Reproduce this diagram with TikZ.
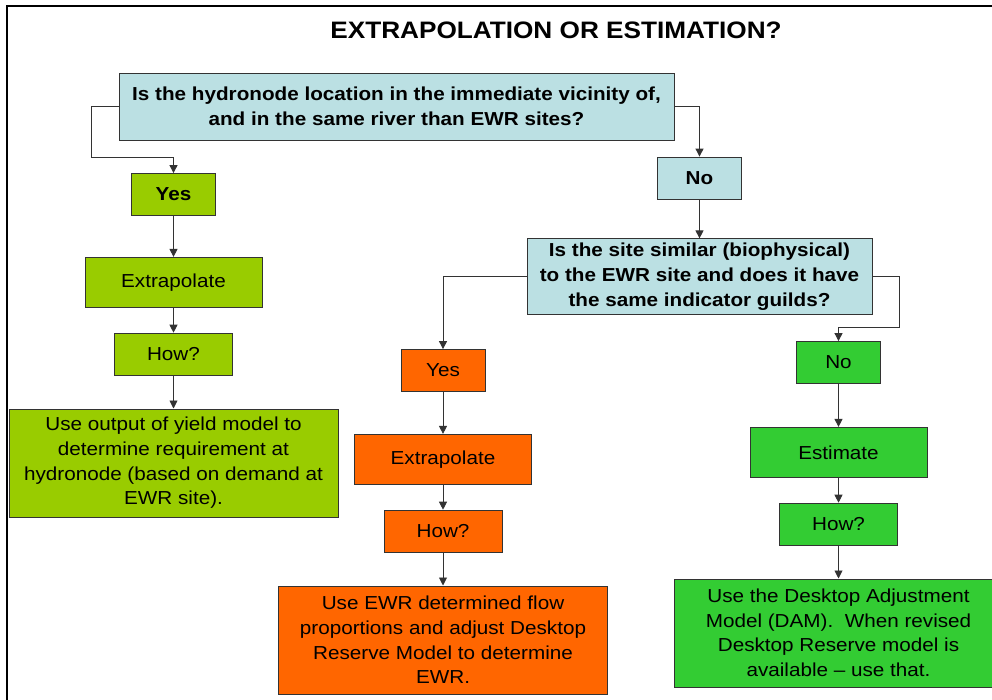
\documentclass[tikz,border=0pt]{standalone}
\usepackage{fontspec}
\setmainfont{Liberation Sans}[FakeStretch=1.1]
\usetikzlibrary{positioning, arrows.meta}

\definecolor{qblue}{HTML}{BBE0E3}
\definecolor{yesgreen}{HTML}{99CC00}
\definecolor{extorange}{HTML}{FF6600}
\definecolor{estgreen}{HTML}{33CC33}

\begin{document}
\begin{tikzpicture}[
    x=1pt, y=-1pt,
    font=\fontsize{18.8}{24.7}\selectfont,
    box/.style={draw=black!80, line width=0.8pt, align=center, inner sep=0pt},
    qbox/.style={box, fill=qblue, font=\fontsize{18.8}{24.7}\selectfont\bfseries},
    sbox/.style={minimum width=84pt, minimum height=42pt},
    hbox/.style={minimum width=118pt, minimum height=42pt},
    mbox/.style={minimum width=177pt, minimum height=50pt},
    bbox/.style={minimum width=329pt, minimum height=108pt},
    ar/.style={-{Triangle[length=8pt, width=8pt]}, draw=black!80, line width=0.9pt},
  ]
  \useasboundingbox (0,0) rectangle (992,700);
  \draw[line width=2pt] (7,700) -- (7,6) -- (992,6);

  \node[anchor=base, font=\fontsize{23.8}{28}\selectfont\bfseries] (title) at (556,39)
    {EXTRAPOLATION OR ESTIMATION?};
  \node[qbox, minimum width=555pt, minimum height=67pt] (q1) at (396.5,106.5)
    {Is the hydronode location in the immediate vicinity of,\\and in the same river than EWR sites?};

  % left branch
  \node[box, sbox, fill=yesgreen, font=\fontsize{18.8}{24.7}\selectfont\bfseries] (yes1) at (173.5,194.5) {Yes};
  \node[box, mbox, fill=yesgreen, below=41pt of yes1] (ext1) {Extrapolate};
  \node[box, hbox, fill=yesgreen, below=25pt of ext1] (how1) {How?};
  \node[box, bbox, fill=yesgreen, below=33pt of how1] (use1)
    {Use output of yield model to\\determine requirement at\\hydronode (based on demand at\\EWR site).};

  % right branch
  \node[qbox, sbox] (no1) at (699.5,178) {No};
  \node[qbox, minimum width=345pt, minimum height=76pt, below=39pt of no1] (q2)
    {Is the site similar (biophysical)\\to the EWR site and does it have\\the same indicator guilds?};

  \node[box, sbox, fill=extorange] (yes2) at (443,370.5) {Yes};
  \node[box, mbox, fill=extorange, below=42pt of yes2] (ext2) {Extrapolate};
  \node[box, hbox, fill=extorange, below=25pt of ext2] (how2) {How?};
  \node[box, bbox, fill=extorange, below=33pt of how2] (use2)
    {Use EWR determined flow\\proportions and adjust Desktop\\Reserve Model to determine\\EWR.};

  \node[box, sbox, fill=estgreen] (no2) at (838.5,362.5) {No};
  \node[box, mbox, fill=estgreen, below=43pt of no2] (est) {Estimate};
  \node[box, hbox, fill=estgreen, below=25pt of est] (how3) {How?};
  \node[box, bbox, fill=estgreen, below=33pt of how3] (use3)
    {Use the Desktop Adjustment\\Model (DAM).\ \ When revised\\Desktop Reserve model is\\available -- use that.};

  \draw[ar] (q1.west) -- ++(-27,0) |- ([yshift=16pt]yes1.north) -- (yes1.north);
  \draw[ar] (yes1) -- (ext1);
  \draw[ar] (ext1) -- (how1);
  \draw[ar] (how1) -- (use1);
  \draw[ar] (q1.east) -| (no1.north);
  \draw[ar] (no1) -- (q2);
  \draw[ar] (q2.west) -| (yes2.north);
  \draw[ar] (yes2) -- (ext2);
  \draw[ar] (ext2) -- (how2);
  \draw[ar] (how2) -- (use2);
  \draw[ar] (q2.east) -- ++(27,0) |- ([yshift=14pt]no2.north) -- (no2.north);
  \draw[ar] (no2) -- (est);
  \draw[ar] (est) -- (how3);
  \draw[ar] (how3) -- (use3);
\end{tikzpicture}
\end{document}
